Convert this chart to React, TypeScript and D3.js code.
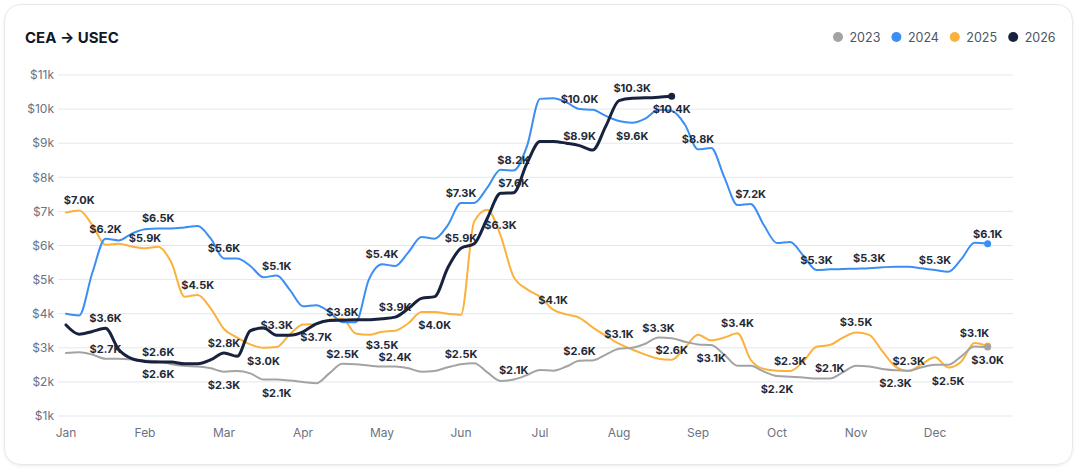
import { useEffect, useRef } from 'react'
import * as d3 from 'd3'

// CEA -> USEC rates in $k, six readings per month (index 0 = early Jan)
const months = ['Jan', 'Feb', 'Mar', 'Apr', 'May', 'Jun', 'Jul', 'Aug', 'Sep', 'Oct', 'Nov', 'Dec']
const yTicks = [1, 2, 3, 4, 5, 6, 7, 8, 9, 10, 11]
const years = ['2023', '2024', '2025', '2026']
const colors = ['#a3a3a3', '#3b8ef3', '#fbb13c', '#18223f']

const y2023 = [
  2.85, 2.87, 2.8, 2.68, 2.68, 2.66, 2.63, 2.6, 2.52, 2.47, 2.45, 2.4, 2.3, 2.32, 2.25, 2.07, 2.07, 2.04,
  2.0, 1.96, 2.25, 2.53, 2.52, 2.48, 2.45, 2.45, 2.4, 2.3, 2.32, 2.43, 2.52, 2.55, 2.28, 2.03, 2.07, 2.2,
  2.35, 2.33, 2.45, 2.62, 2.63, 2.8, 2.97, 3.0, 3.12, 3.3, 3.28, 3.18, 3.1, 3.08, 2.8, 2.47, 2.47, 2.3,
  2.17, 2.15, 2.13, 2.1, 2.1, 2.28, 2.47, 2.45, 2.38, 2.34, 2.33, 2.43, 2.5, 2.5, 2.75, 3.04, 3.02,
]
const y2024 = [
  4.0, 3.95, 5.2, 6.2, 6.15, 6.35, 6.48, 6.5, 6.5, 6.53, 6.57, 6.2, 5.62, 5.62, 5.4, 5.07, 5.12, 4.7,
  4.22, 4.25, 4.05, 3.75, 3.75, 5.0, 5.45, 5.4, 5.8, 6.25, 6.2, 6.6, 7.25, 7.25, 7.7, 8.22, 8.2, 8.9,
  10.3, 10.32, 10.2, 10.0, 9.98, 9.8, 9.65, 9.6, 9.72, 9.98, 9.95, 9.55, 8.82, 8.86, 8.0, 7.19, 7.22, 6.6,
  6.07, 6.1, 5.7, 5.28, 5.3, 5.31, 5.32, 5.33, 5.36, 5.38, 5.38, 5.33, 5.28, 5.23, 5.6, 6.08, 6.05,
]
const y2025 = [
  6.97, 7.03, 6.6, 6.02, 6.05, 5.97, 5.92, 5.96, 5.5, 4.5, 4.55, 4.15, 3.55, 3.3, 3.1, 3.0, 3.02, 3.4,
  3.68, 3.7, 3.82, 3.85, 3.42, 3.38, 3.47, 3.5, 3.72, 4.05, 4.05, 4.0, 3.97, 6.7, 7.05, 6.3, 5.08, 4.72,
  4.5, 4.12, 3.98, 3.88, 3.6, 3.35, 3.12, 2.95, 2.8, 2.68, 2.65, 3.0, 3.38, 3.22, 3.3, 3.43, 2.65, 2.38,
  2.33, 2.32, 2.6, 3.03, 3.08, 3.3, 3.45, 3.38, 2.9, 2.45, 2.32, 2.52, 2.72, 2.42, 2.6, 3.14, 3.05,
]
const y2026 = [
  3.67, 3.4, 3.48, 3.57, 2.95, 2.68, 2.6, 2.58, 2.58, 2.53, 2.53, 2.65, 2.85, 2.75, 3.5, 3.58, 3.37, 3.37,
  3.47, 3.7, 3.8, 3.81, 3.82, 3.82, 3.85, 3.9, 4.15, 4.45, 4.5, 5.35, 5.92, 6.05, 6.8, 7.53, 7.55, 8.4,
  9.05, 9.05, 9.0, 8.93, 8.8, 9.5, 10.25, 10.32, 10.33, 10.35, 10.38,
]

// [point index, text, side of the line]
type Label = [number, string, 'up' | 'down']
const labels2023: Label[] = [
  [3, '$2.7K', 'up'], [7, '$2.6K', 'down'], [12, '$2.3K', 'down'], [16, '$2.1K', 'down'],
  [21, '$2.5K', 'up'], [25, '$2.4K', 'up'], [30, '$2.5K', 'up'], [34, '$2.1K', 'up'],
  [39, '$2.6K', 'up'], [45, '$3.3K', 'up'], [49, '$3.1K', 'down'], [54, '$2.2K', 'down'],
  [58, '$2.1K', 'up'], [63, '$2.3K', 'down'], [70, '$3.0K', 'down'],
]
const labels2024: Label[] = [
  [3, '$6.2K', 'up'], [7, '$6.5K', 'up'], [12, '$5.6K', 'up'], [16, '$5.1K', 'up'],
  [21, '$3.8K', 'up'], [24, '$5.4K', 'up'], [30, '$7.3K', 'up'], [34, '$8.2K', 'up'],
  [39, '$10.0K', 'up'], [43, '$9.6K', 'down'], [48, '$8.8K', 'up'], [52, '$7.2K', 'up'],
  [57, '$5.3K', 'up'], [61, '$5.3K', 'up'], [66, '$5.3K', 'up'], [70, '$6.1K', 'up'],
]
const labels2025: Label[] = [
  [1, '$7.0K', 'up'], [6, '$5.9K', 'up'], [10, '$4.5K', 'up'], [15, '$3.0K', 'down'],
  [19, '$3.7K', 'down'], [24, '$3.5K', 'down'], [28, '$4.0K', 'down'], [33, '$6.3K', 'up'],
  [37, '$4.1K', 'up'], [42, '$3.1K', 'up'], [46, '$2.6K', 'up'], [51, '$3.4K', 'up'],
  [55, '$2.3K', 'up'], [60, '$3.5K', 'up'], [64, '$2.3K', 'up'], [67, '$2.5K', 'down'],
  [69, '$3.1K', 'up'],
]
const labels2026: Label[] = [
  [3, '$3.6K', 'up'], [7, '$2.6K', 'up'], [12, '$2.8K', 'up'], [16, '$3.3K', 'up'],
  [25, '$3.9K', 'up'], [30, '$5.9K', 'up'], [34, '$7.6K', 'up'], [39, '$8.9K', 'up'],
  [43, '$10.3K', 'up'], [46, '$10.4K', 'down'],
]

const seriesValues = [y2023, y2024, y2025, y2026]
const seriesLabels = [labels2023, labels2024, labels2025, labels2026]
const drawOrder = [2, 0, 1, 3]

const FONT = 'Inter, "Noto Sans", sans-serif'

const App = () => {
  const svgRef = useRef<SVGSVGElement>(null)

  useEffect(() => {
    if (!svgRef.current) return
    const width = 1079
    const height = 470

    const svg = d3.select(svgRef.current)
    svg.selectAll('*').remove()
    svg.attr('width', width).attr('height', height).style('font-family', FONT)

    const defs = svg.append('defs')
    const shadow = defs.append('filter').attr('id', 'card-shadow')
      .attr('x', '-5%').attr('y', '-5%').attr('width', '110%').attr('height', '115%')
    shadow.append('feDropShadow').attr('dx', 0).attr('dy', 1).attr('stdDeviation', 1.5)
      .attr('flood-color', '#000').attr('flood-opacity', 0.08)

    svg.append('rect')
      .attr('x', 4.5).attr('y', 4.5).attr('width', 1068).attr('height', 460).attr('rx', 16)
      .attr('fill', '#fff').attr('stroke', '#e5e7eb').attr('filter', 'url(#card-shadow)')

    svg.append('text')
      .attr('x', 25).attr('y', 43)
      .attr('font-size', 15).attr('font-weight', 700).attr('fill', '#111827')
      .text('CEA → USEC')

    // legend
    const legend = svg.append('g')
    years.forEach((yr, i) => {
      const cx = 838 + i * 58.4
      legend.append('circle').attr('cx', cx).attr('cy', 37).attr('r', 5).attr('fill', colors[i])
      legend.append('text').attr('x', cx + 11.5).attr('y', 41.5)
        .attr('font-size', 12.5).attr('fill', '#4b5563').text(yr)
    })

    const x = d3.scaleLinear().domain([0, 72]).range([66, 1014])
    const y = d3.scaleLinear().domain([1, 11]).range([416, 75])

    // grid + y labels
    const grid = svg.append('g')
    yTicks.forEach(t => {
      grid.append('line')
        .attr('x1', 58).attr('x2', 1013).attr('y1', y(t)).attr('y2', y(t))
        .attr('stroke', '#e5e7eb').attr('stroke-width', 1)
      grid.append('text')
        .attr('x', 54).attr('y', y(t)).attr('dy', '0.35em')
        .attr('text-anchor', 'end').attr('font-size', 12).attr('fill', '#6b7280')
        .text(`$${t}k`)
    })

    months.forEach((m, i) => {
      svg.append('text')
        .attr('x', x(i * 6)).attr('y', 437)
        .attr('text-anchor', 'middle').attr('font-size', 12).attr('fill', '#6b7280')
        .text(m)
    })

    const line = d3.line<number>()
      .x((_, i) => x(i))
      .y(d => y(d))
      .curve(d3.curveMonotoneX)

    drawOrder.forEach(s => {
      const vals = seriesValues[s]
      svg.append('path')
        .datum(vals)
        .attr('d', line)
        .attr('fill', 'none')
        .attr('stroke', colors[s])
        .attr('stroke-width', s === 3 ? 3 : 2)
        .attr('stroke-linejoin', 'round')
        .attr('stroke-linecap', 'round')
      svg.append('circle')
        .attr('cx', x(vals.length - 1)).attr('cy', y(vals[vals.length - 1]))
        .attr('r', 3.5).attr('fill', colors[s])
    })

    const labelLayer = svg.append('g')
      .attr('font-size', 11).attr('font-weight', 700).attr('fill', '#1f2937')
      .attr('text-anchor', 'middle')
    seriesLabels.forEach((list, s) => {
      const vals = seriesValues[s]
      labelLayer.selectAll(null)
        .data(list)
        .enter().append('text')
        .attr('x', d => x(d[0]))
        .attr('y', d => y(vals[d[0]]) + (d[2] === 'up' ? -6 : 17))
        .text(d => d[1])
    })
  }, [])

  return <svg ref={svgRef} style={{ position: 'absolute', left: 0, top: 0 }}></svg>
}

export default App
